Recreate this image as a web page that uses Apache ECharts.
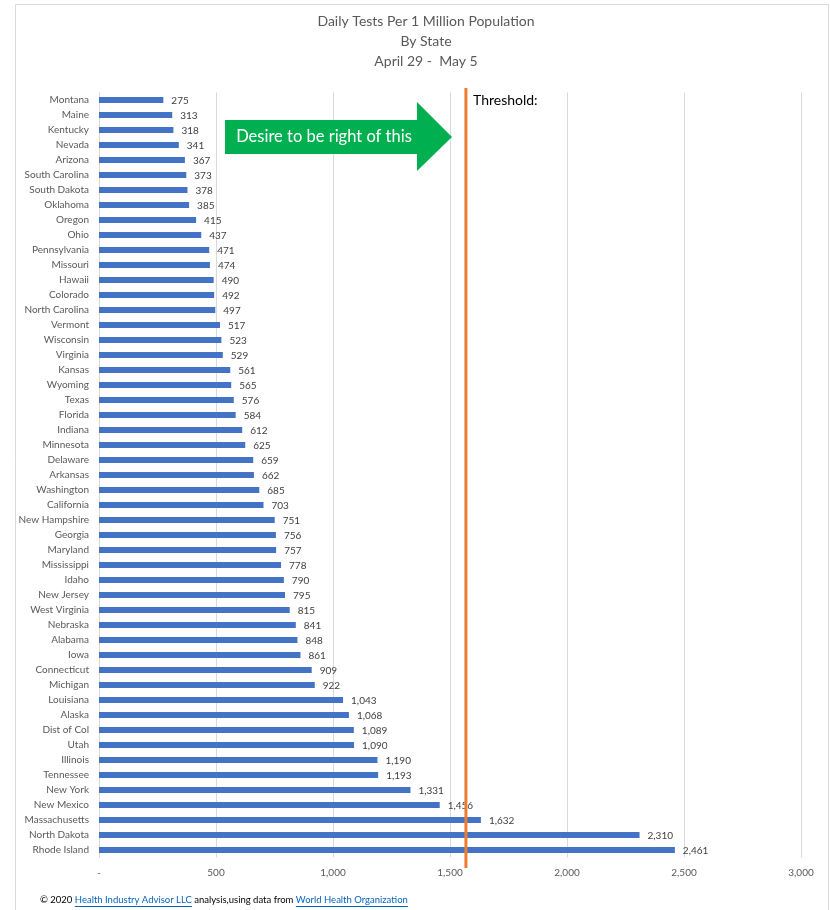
<!DOCTYPE html>
<html>
<head>
<meta charset="utf-8">
<script src="https://cdn.jsdelivr.net/npm/echarts@6/dist/echarts.min.js"></script>
<style>
html,body{margin:0;padding:0;background:#fff;}
#chart{width:830px;height:910px;}
</style>
</head>
<body>
<div id="chart"></div>
<script>
const states = ["Montana","Maine","Kentucky","Nevada","Arizona","South Carolina","South Dakota","Oklahoma","Oregon","Ohio",
"Pennsylvania","Missouri","Hawaii","Colorado","North Carolina","Vermont","Wisconsin","Virginia","Kansas","Wyoming",
"Texas","Florida","Indiana","Minnesota","Delaware","Arkansas","Washington","California","New Hampshire","Georgia",
"Maryland","Mississippi","Idaho","New Jersey","West Virginia","Nebraska","Alabama","Iowa","Connecticut","Michigan",
"Louisiana","Alaska","Dist of Col","Utah","Illinois","Tennessee","New York","New Mexico","Massachusetts","North Dakota","Rhode Island"];
const testsPerMillion = [275,313,318,341,367,373,378,385,415,437,
471,474,490,492,497,517,523,529,561,565,
576,584,612,625,659,662,685,703,751,756,
757,778,790,795,815,841,848,861,909,922,
1043,1068,1089,1090,1190,1193,1331,1456,1632,2310,2461];
const thresholdValue = 1568;
const xTicks = [0,500,1000,1500,2000,2500,3000];
const titleLines = ["Daily Tests Per 1 Million Population","By State","April 29 -  May 5"];
const arrowText = "Desire to be right of this";
const thresholdLabel = "Threshold:";
const footerParts = [
  {t:"© 2020 ", link:false},
  {t:"Health Industry Advisor LLC", link:true},
  {t:" analysis,using data from ", link:false},
  {t:"World Health Organization", link:true}
];

const FONT = "Lato, 'Open Sans', sans-serif";
const fmt = v => v === 0 ? "-" : v.toLocaleString("en-US");

const chart = echarts.init(document.getElementById('chart'));
const option = {
  animation:false,
  backgroundColor:'#fff',
  title:{
    text: titleLines.join("\n"),
    left: 421, top: 6, textAlign:'center',
    textStyle:{fontFamily:FONT,fontSize:14,fontWeight:'normal',color:'#595959',lineHeight:20}
  },
  grid:{left:99,right:29,top:92.5,height:765,containLabel:false},
  xAxis:{
    type:'value',min:xTicks[0],max:xTicks[xTicks.length-1],interval:500,
    axisLine:{show:false},axisTick:{show:false},
    splitLine:{lineStyle:{color:'#d9d9d9',width:1}},
    axisLabel:{formatter:fmt,color:'#595959',fontSize:10,fontFamily:FONT,margin:10}
  },
  yAxis:{
    type:'category',data:states,inverse:true,
    axisLine:{show:true,lineStyle:{color:'#d9d9d9'}},axisTick:{show:false},
    axisLabel:{color:'#595959',fontSize:10,fontFamily:FONT,margin:10,interval:0}
  },
  series:[{
    type:'bar',data:testsPerMillion,barWidth:6,
    itemStyle:{color:'#4472C4'},
    label:{show:true,position:'right',distance:8,formatter:p=>fmt(p.value),
      color:'#404040',fontSize:10,fontFamily:FONT,offset:[0,1]}
  }]
};
chart.setOption(option);

// overlay graphics
const thX = chart.convertToPixel({xAxisIndex:0}, thresholdValue);
const ctx = document.createElement('canvas').getContext('2d');
const footFont = "9.5px Lato";
ctx.font = footFont;
let fx = 40;
const footEls = [];
footerParts.forEach(p=>{
  const w = ctx.measureText(p.t).width;
  footEls.push({type:'text',x:fx,y:900,style:{text:p.t,font:footFont,fill:p.link?'#0563C1':'#000',textVerticalAlign:'middle'}});
  if(p.link){
    footEls.push({type:'line',shape:{x1:fx,y1:906.5,x2:fx+w,y2:906.5},style:{stroke:'#0563C1',lineWidth:1}});
  }
  fx += w;
});

chart.setOption({
  graphic:[
    {type:'rect',shape:{x:15.5,y:4.5,width:813,height:920},style:{fill:'none',stroke:'#d9d9d9',lineWidth:1},z:-1},
    {type:'line',shape:{x1:thX,y1:88,x2:thX,y2:868},style:{stroke:'#ED7D31',lineWidth:3},z:50},
    {type:'polygon',shape:{points:[[225,120],[417,120],[417,102],[452,137],[417,171],[417,154],[225,154]]},
      style:{fill:'#00B050'},z:50},
    {type:'text',x:324,y:137,style:{text:arrowText,font:"16.5px Lato",fill:'#fff',textAlign:'center',textVerticalAlign:'middle'},z:51},
    {type:'text',x:473,y:100,style:{text:thresholdLabel,font:"14px Lato",fill:'#000',textVerticalAlign:'middle'},z:51}
  ].concat(footEls)
});
</script>
</body>
</html>
